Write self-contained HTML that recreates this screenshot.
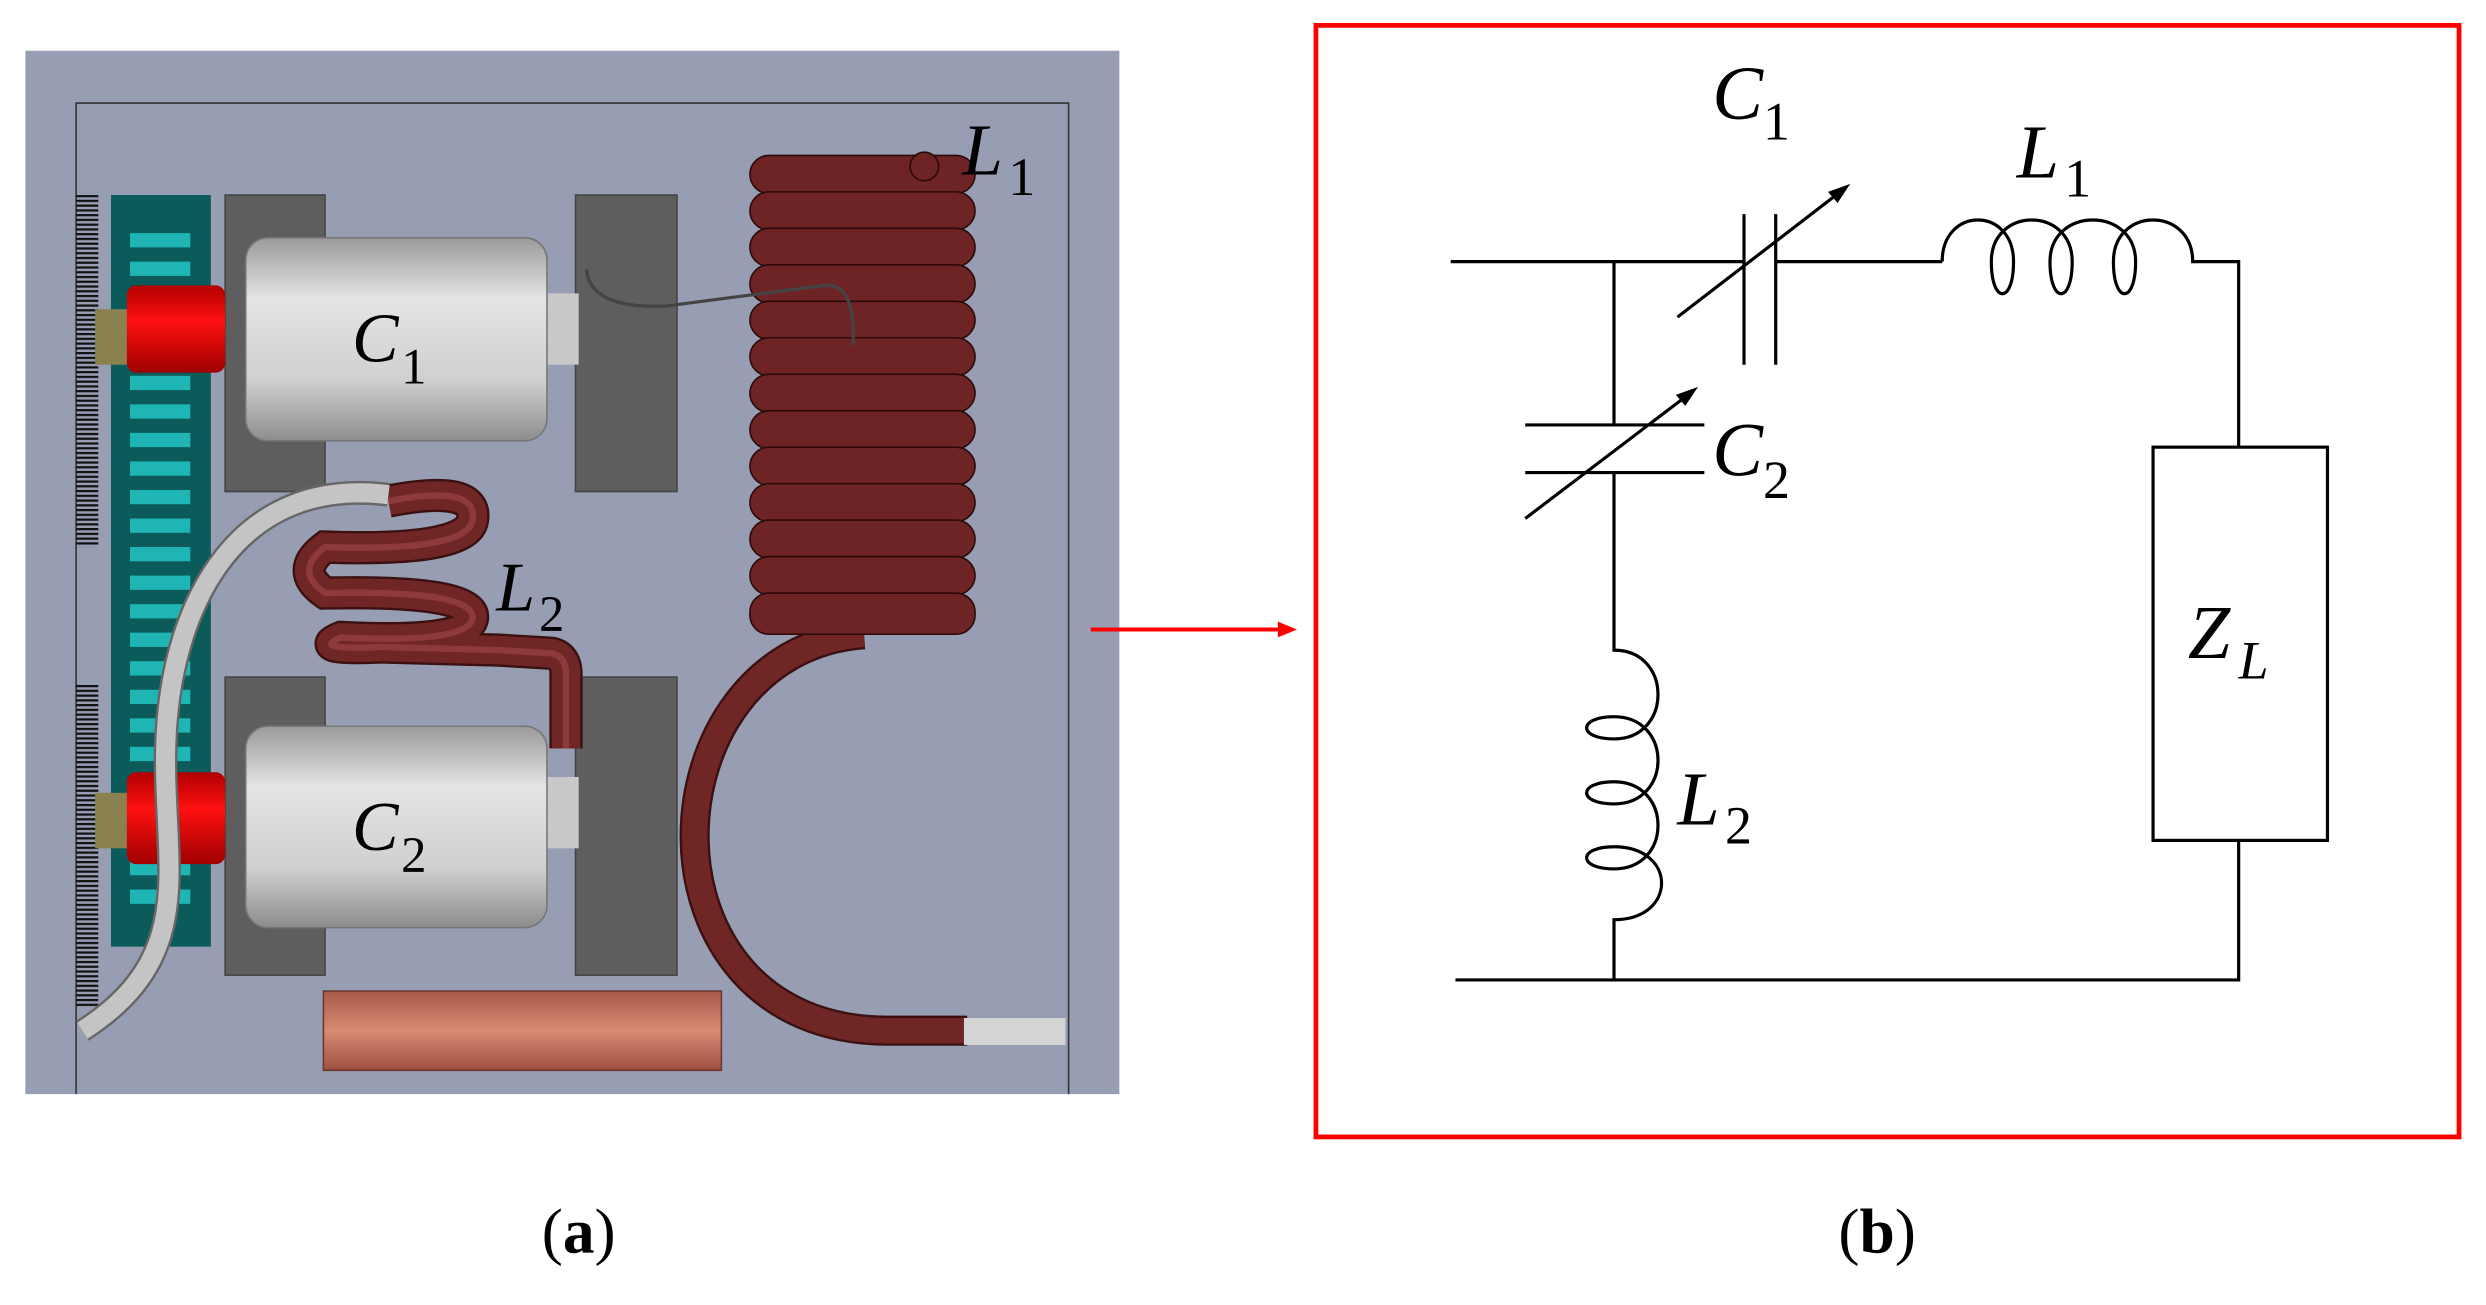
<!DOCTYPE html>
<html><head><meta charset="utf-8"><style>
html,body{margin:0;padding:0;background:#fff;width:2486px;height:1305px;overflow:hidden}
svg{display:block}
.m{font-family:"Liberation Serif",serif;font-style:italic;fill:#000}
.s{font-family:"Liberation Serif",serif;font-style:normal;fill:#000}
</style></head><body>
<svg width="2486" height="1305" viewBox="0 0 1568 823" preserveAspectRatio="none" xmlns="http://www.w3.org/2000/svg">
<defs>
<linearGradient id="cyl" x1="0" y1="0" x2="0" y2="1">
<stop offset="0" stop-color="#9a9a9a"/><stop offset="0.3" stop-color="#e4e4e4"/><stop offset="0.7" stop-color="#d0d0d0"/><stop offset="1" stop-color="#8d8d8d"/></linearGradient>
<linearGradient id="red" x1="0" y1="0" x2="0" y2="1">
<stop offset="0" stop-color="#b00000"/><stop offset="0.4" stop-color="#ff1010"/><stop offset="1" stop-color="#a00000"/></linearGradient>
<linearGradient id="cu" x1="0" y1="0" x2="0" y2="1">
<stop offset="0" stop-color="#a85a48"/><stop offset="0.5" stop-color="#d88a74"/><stop offset="1" stop-color="#a05040"/></linearGradient>
<pattern id="bar" width="14" height="3" patternUnits="userSpaceOnUse"><rect width="14" height="1.4" fill="#111"/></pattern>
</defs>
<rect x="16" y="32" width="690" height="658" fill="#979db3"/>
<path d="M48 690 V65 H674 V690" fill="none" stroke="#333" stroke-width="1"/>
<rect x="48" y="123" width="14" height="222" fill="url(#bar)"/>
<rect x="48" y="432" width="14" height="203" fill="url(#bar)"/>
<rect x="70" y="123" width="63" height="474" fill="#0b5b5b"/>
<g fill="#1fb5b5">
<rect x="82" y="147" width="38" height="9"/><rect x="82" y="165" width="38" height="9"/><rect x="82" y="183" width="38" height="9"/><rect x="82" y="201" width="38" height="9"/><rect x="82" y="219" width="38" height="9"/><rect x="82" y="237" width="38" height="9"/><rect x="82" y="255" width="38" height="9"/><rect x="82" y="273" width="38" height="9"/><rect x="82" y="291" width="38" height="9"/><rect x="82" y="309" width="38" height="9"/><rect x="82" y="327" width="38" height="9"/><rect x="82" y="345" width="38" height="9"/><rect x="82" y="363" width="38" height="9"/><rect x="82" y="381" width="38" height="9"/><rect x="82" y="399" width="38" height="9"/><rect x="82" y="417" width="38" height="9"/><rect x="82" y="435" width="38" height="9"/><rect x="82" y="453" width="38" height="9"/><rect x="82" y="471" width="38" height="9"/><rect x="82" y="489" width="38" height="9"/><rect x="82" y="507" width="38" height="9"/><rect x="82" y="525" width="38" height="9"/><rect x="82" y="543" width="38" height="9"/><rect x="82" y="561" width="38" height="9"/>
</g>
<g fill="#5e5e5e" stroke="#444" stroke-width="1">
<rect x="142" y="123" width="63" height="187"/><rect x="363" y="123" width="64" height="187"/>
<rect x="142" y="427" width="63" height="188"/><rect x="363" y="427" width="64" height="188"/>
</g>
<rect x="60" y="195" width="22" height="35" fill="#8a8050"/>
<rect x="80" y="180" width="62" height="55" fill="url(#red)" rx="6"/>
<rect x="345" y="185" width="20" height="45" fill="#c8c8c8"/>
<rect x="155" y="150" width="190" height="128" rx="14" fill="url(#cyl)" stroke="#777" stroke-width="1"/>
<rect x="60" y="500" width="22" height="35" fill="#8a8050"/>
<rect x="80" y="487" width="62" height="58" fill="url(#red)" rx="6"/>
<rect x="345" y="490" width="20" height="45" fill="#c8c8c8"/>
<rect x="155" y="458" width="190" height="127" rx="14" fill="url(#cyl)" stroke="#777" stroke-width="1"/>
<rect x="204" y="625" width="251" height="50" fill="url(#cu)" stroke="#6a3a30" stroke-width="1"/>
<path d="M545 400 C 405 410, 395 650, 560 650 L 610 650" fill="none" stroke="#3a1010" stroke-width="19"/>
<path d="M545 400 C 405 410, 395 650, 560 650 L 610 650" fill="none" stroke="#712626" stroke-width="16"/>
<rect x="608" y="642" width="64" height="17" fill="#d4d4d4"/>
<g fill="#6e2424" stroke="#2a0a0a" stroke-width="1">
<rect x="473" y="98" width="142" height="24" rx="12"/><rect x="473" y="121" width="142" height="24" rx="12"/><rect x="473" y="144" width="142" height="24" rx="12"/><rect x="473" y="167" width="142" height="24" rx="12"/><rect x="473" y="190" width="142" height="24" rx="12"/><rect x="473" y="213" width="142" height="24" rx="12"/><rect x="473" y="236" width="142" height="24" rx="12"/><rect x="473" y="259" width="142" height="24" rx="12"/><rect x="473" y="282" width="142" height="24" rx="12"/><rect x="473" y="305" width="142" height="24" rx="12"/><rect x="473" y="328" width="142" height="24" rx="12"/><rect x="473" y="351" width="142" height="24" rx="12"/><rect x="473" y="374" width="142" height="26" rx="12"/>
</g>
<circle cx="583" cy="105" r="9" fill="#6e2424" stroke="#2a0a0a"/>
<path d="M370 170 Q372 195 420 193 L520 180 Q540 178 538 218" fill="none" stroke="#444" stroke-width="2"/>
<path id="l2" d="M245 316 Q302 305 298 328 Q295 348 205 345 Q185 360 205 374 Q300 372 298 390 Q295 406 215 402 Q195 410 240 408 L315 410 L348 412 Q357 414 357 425 L357 472" fill="none" stroke="#3a1010" stroke-width="21"/>
<path d="M245 316 Q302 305 298 328 Q295 348 205 345 Q185 360 205 374 Q300 372 298 390 Q295 406 215 402 Q195 410 240 408 L315 410 L348 412 Q357 414 357 425 L357 472" fill="none" stroke="#712626" stroke-width="18"/>
<path d="M245 316 Q302 305 298 328 Q295 348 205 345 Q185 360 205 374 Q300 372 298 390 Q295 406 215 402 Q195 410 240 408 L315 410 L348 412 Q357 414 357 425 L357 472" fill="none" stroke="#8e3a3a" stroke-width="4"/>
<path d="M245 312 C 150 300, 110 380, 105 460 C 100 540, 130 600, 52 650" fill="none" stroke="#666" stroke-width="15"/>
<path d="M245 312 C 150 300, 110 380, 105 460 C 100 540, 130 600, 52 650" fill="none" stroke="#c4c4c4" stroke-width="12"/>
<text x="222" y="228" class="m" font-size="44">C</text><text x="253" y="242" class="s" font-size="32">1</text>
<text x="222" y="536" class="m" font-size="44">C</text><text x="253" y="550" class="s" font-size="32">2</text>
<text x="313" y="385" class="m" font-size="44">L</text><text x="340" y="398" class="s" font-size="32">2</text>
<text x="607" y="110" class="m" font-size="46">L</text><text x="636" y="123" class="s" font-size="34">1</text>
<line x1="688" y1="397" x2="808" y2="397" stroke="#f00" stroke-width="2.5"/>
<path d="M818 397 L806 392 L806 402 Z" fill="#f00"/>
<rect x="830" y="16" width="721" height="701" fill="none" stroke="#f00" stroke-width="3"/>
<g fill="none" stroke="#000" stroke-width="2">
<line x1="915" y1="165" x2="1100" y2="165"/>
<line x1="1120" y1="165" x2="1225" y2="165"/>
<line x1="1100" y1="135" x2="1100" y2="230"/>
<line x1="1120" y1="135" x2="1120" y2="230"/>
<line x1="1058" y1="200" x2="1162" y2="120"/>
<path d="M1225 165 C1225 130 1270 130 1270 165 C1270 192 1256 192 1256 165 C1256 130 1307 130 1307 165 C1307 192 1293 192 1293 165 C1293 130 1347 130 1347 165 C1347 192 1333 192 1333 165 C1333 130 1383 130 1383 165 L1412 165 L1412 282"/>
<rect x="1358" y="282" width="110" height="248"/>
<path d="M1412 530 L1412 618 L918 618"/>
<path d="M1018 165 L1018 268"/>
<line x1="962" y1="268" x2="1075" y2="268"/>
<line x1="962" y1="298" x2="1075" y2="298"/>
<path d="M1018 298 L1018 410 C1055 410 1055 466 1018 466 C 995 466 995 452 1018 452 C1055 452 1055 507 1018 507 C 995 507 995 493 1018 493 C1055 493 1055 548 1018 548 C 995 548 995 534 1018 534 C1058 534 1058 580 1018 580 L1018 618"/>
<line x1="962" y1="327" x2="1066" y2="248"/>
</g>
<path d="M1167 116 L1153 121 L1159 128 Z" fill="#000"/>
<path d="M1071 244 L1057 249 L1063 256 Z" fill="#000"/>
<text x="1080" y="75" class="m" font-size="48">C</text><text x="1112" y="88" class="s" font-size="34">1</text>
<text x="1272" y="112" class="m" font-size="48">L</text><text x="1302" y="124" class="s" font-size="34">1</text>
<text x="1080" y="300" class="m" font-size="48">C</text><text x="1112" y="314" class="s" font-size="34">2</text>
<text x="1058" y="520" class="m" font-size="48">L</text><text x="1088" y="532" class="s" font-size="34">2</text>
<text x="1380" y="415" class="m" font-size="48">Z</text><text x="1412" y="428" class="m" font-size="34">L</text>
<text x="365" y="790" class="s" font-size="40" text-anchor="middle"><tspan>(</tspan><tspan font-weight="bold">a</tspan><tspan>)</tspan></text>
<text x="1184" y="790" class="s" font-size="40" text-anchor="middle"><tspan>(</tspan><tspan font-weight="bold">b</tspan><tspan>)</tspan></text>
</svg>
</body></html>
